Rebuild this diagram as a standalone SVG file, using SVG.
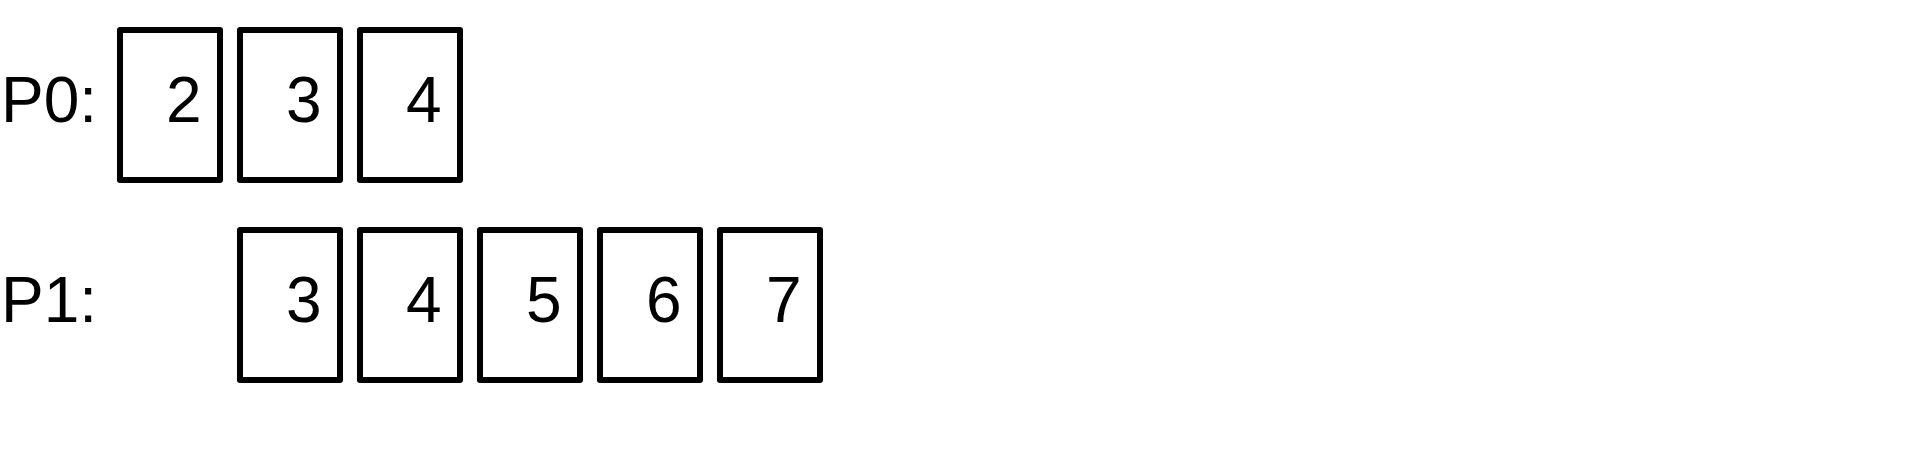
<svg xmlns="http://www.w3.org/2000/svg" width="1914" height="456" viewBox="0 0 1914 456">
<style>
.box{fill:#fff;stroke:#000;stroke-width:6;stroke-linejoin:round}
.lbl{font-family:"Liberation Sans",Arial,sans-serif;font-size:64px;fill:#000}
.num{font-family:"Liberation Sans",Arial,sans-serif;font-size:64px;fill:#000;text-anchor:end}
</style>
<rect width="1914" height="456" fill="#fff"/>
<text class="lbl" x="1" y="122">P0:</text>
<text class="lbl" x="1" y="322">P1:</text>
<g id="p0-2"><rect class="box" x="120" y="30" width="100" height="150"/><text class="num" x="201.5" y="122">2</text></g>
<g id="p0-3"><rect class="box" x="240" y="30" width="100" height="150"/><text class="num" x="321.5" y="122">3</text></g>
<g id="p0-4"><rect class="box" x="360" y="30" width="100" height="150"/><text class="num" x="441.5" y="122">4</text></g>
<g id="p1-3"><rect class="box" x="240" y="230" width="100" height="150"/><text class="num" x="321.5" y="322">3</text></g>
<g id="p1-4"><rect class="box" x="360" y="230" width="100" height="150"/><text class="num" x="441.5" y="322">4</text></g>
<g id="p1-5"><rect class="box" x="480" y="230" width="100" height="150"/><text class="num" x="561.5" y="322">5</text></g>
<g id="p1-6"><rect class="box" x="600" y="230" width="100" height="150"/><text class="num" x="681.5" y="322">6</text></g>
<g id="p1-7"><rect class="box" x="720" y="230" width="100" height="150"/><text class="num" x="801.5" y="322">7</text></g>
<g id="connectors"></g>
</svg>
